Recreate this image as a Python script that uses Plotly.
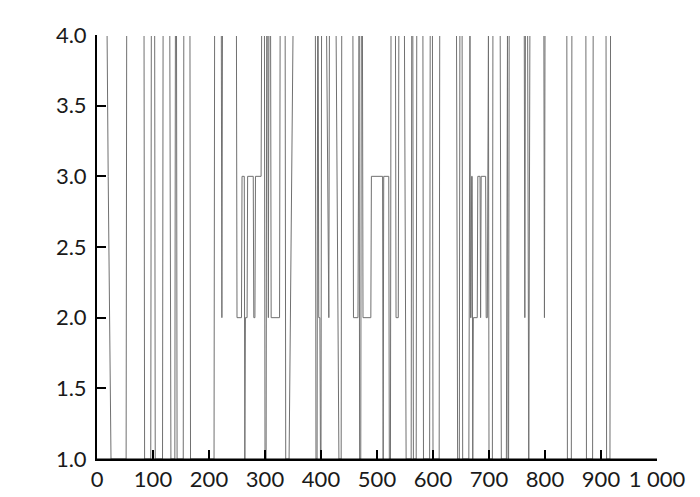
import plotly.graph_objects as go

# breakpoints of the series (x position, state value)
x_vals = [0, 18, 20, 25,
          52, 53, 84, 85, 96, 97, 103, 104, 117, 118, 130, 132, 139, 140, 142, 143,
          154, 155, 166, 167, 209, 210, 222, 223, 224,
          249, 250, 258, 259, 263, 264, 265, 268, 269, 279, 280, 282, 283, 293, 294,
          299, 300, 302, 303, 305, 306, 307, 310, 311, 326, 327,
          336, 337, 343, 350,
          390, 391, 393, 394, 395, 396, 398, 399, 400, 401,
          410, 414, 415, 427, 432, 436, 437,
          457, 458, 466, 467, 468, 469, 471, 472, 474, 475, 489, 490, 510, 511, 512,
          521, 522, 524, 525, 533, 534, 538, 539,
          549, 552, 561, 562, 564, 565, 570, 571, 582, 583, 594, 595, 599, 600,
          611, 612, 642, 644, 647, 648, 652, 653,
          664, 665, 666, 667, 668, 669, 670, 671, 672, 679, 680, 684, 685, 686,
          694, 695, 697, 699, 700,
          706, 707, 720, 722, 731, 732, 733, 734, 735, 736,
          763, 764, 765, 769, 771, 773, 798, 799, 800,
          839, 840, 847, 848, 873, 874, 885, 886, 909, 910, 916, 917, 920]
y_vals = [4, 4, 3, 1,
          1, 4, 4, 1, 1, 4, 4, 1, 1, 4, 4, 1, 1, 4, 4, 1,
          1, 4, 4, 1, 1, 4, 4, 2, 4,
          4, 2, 2, 3, 3, 1, 2, 2, 3, 3, 2, 2, 3, 3, 4,
          4, 1, 1, 4, 4, 2, 4, 4, 2, 2, 4,
          4, 1, 1, 4,
          4, 1, 1, 4, 4, 2, 2, 1, 1, 4,
          4, 2, 4, 4, 1, 1, 4,
          4, 2, 2, 4, 4, 1, 1, 4, 4, 2, 2, 3, 3, 1, 3,
          3, 1, 1, 4, 4, 2, 2, 4,
          4, 1, 1, 4, 4, 1, 1, 4, 4, 1, 1, 4, 4, 1,
          1, 4, 4, 1, 1, 4, 4, 1,
          1, 4, 4, 2, 2, 3, 3, 1, 2, 2, 3, 3, 2, 3,
          3, 2, 2, 4, 1,
          1, 4, 4, 1, 1, 4, 4, 1, 1, 4,
          4, 2, 4, 4, 1, 4, 4, 2, 4,
          4, 1, 1, 4, 4, 1, 1, 4, 4, 1, 1, 4, 4]

x_ticks = [0, 100, 200, 300, 400, 500, 600, 700, 800, 900, 1000]
y_ticks = [1.0, 1.5, 2.0, 2.5, 3.0, 3.5, 4.0]

fig = go.Figure()
fig.add_trace(go.Scatter(x=x_vals, y=y_vals, mode="lines",
                         line=dict(color="#707070", width=1),
                         hoverinfo="skip", showlegend=False))

axis_common = dict(showgrid=False, zeroline=False, showline=True,
                   linecolor="black", linewidth=2,
                   ticks="inside", ticklen=9, tickwidth=2, tickcolor="black",
                   tickfont=dict(family="Lato, Open Sans, sans-serif", size=22, color="#1a1a1a"))

fig.update_layout(
    width=700, height=497,
    margin=dict(l=89, r=51, t=27, b=46),
    paper_bgcolor="white", plot_bgcolor="white",
    separators=". ",
    xaxis=dict(range=[0, 1000], tickvals=x_ticks, tickformat=",", **axis_common),
    yaxis=dict(range=[1, 4], tickvals=y_ticks, tickformat=".1f",
               ticklabelstandoff=4, **axis_common),
    shapes=[
        dict(type="line", xref="paper", yref="y", x0=0, x1=1, y0=4, y1=4,
             line=dict(color="white", width=2), layer="above"),
        dict(type="line", xref="paper", yref="y", x0=0, x1=1, y0=1, y1=1,
             line=dict(color="black", width=1), layer="above"),
    ],
)

fig.write_html("out.html")
